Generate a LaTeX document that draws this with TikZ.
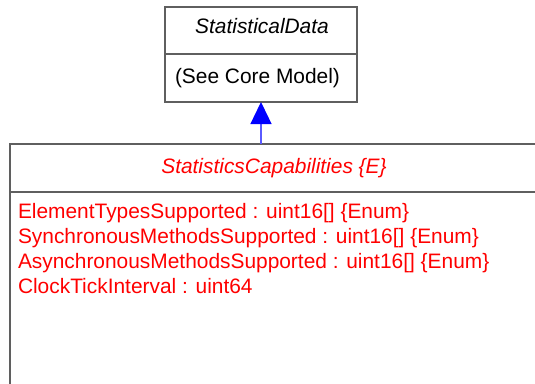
\documentclass[tikz,border=0pt]{standalone}
\usepackage{fontspec}
\setmainfont{Liberation Sans}
\usetikzlibrary{arrows.meta}
\definecolor{umlred}{RGB}{255,0,0}
\definecolor{umlblue}{RGB}{0,0,255}
\definecolor{stemblue}{RGB}{90,90,255}
\definecolor{bordergray}{RGB}{95,95,95}
\tikzset{
  compart/.style={draw=bordergray, line width=1.2pt, fill=white, inner sep=0pt, outer sep=0pt},
  txt/.style={inner sep=0pt, outer sep=0pt, font=\fontsize{20.9}{25}\selectfont},
  redtxt/.style={txt, text=umlred},
  inherit/.style={draw=stemblue, line width=1.3pt, -{Triangle[width=21pt,length=22pt,color=umlblue]}}
}
\begin{document}
\begin{tikzpicture}[x=1pt,y=-1pt]
\useasboundingbox (0,0) rectangle (535,383);
\clip (0,0) rectangle (535,383);
% StatisticalData
\node[compart, minimum width=192pt, minimum height=47pt, anchor=north west] (sdtitle) at (165,7) {};
\node[compart, minimum width=192pt, minimum height=48pt, anchor=north west] (sdbody) at (165,54) {};
\node[txt, anchor=base] (sdname) at (262,33) {\itshape StatisticalData};
\node[txt, anchor=base west] (sdnote) at (175,83) {(See Core Model)};
% StatisticsCapabilities
\node[compart, minimum width=528pt, minimum height=48pt, anchor=north west] (sctitle) at (10,144) {};
\node[compart, minimum width=528pt, minimum height=240pt, anchor=north west] (scbody) at (10,192) {};
\node[redtxt, anchor=base] (scname) at (274,173) {\itshape StatisticsCapabilities \{E\}};
\node[redtxt, anchor=base west] (a1) at (18,218) {ElementTypesSupported : uint16[] \{Enum\}};
\node[redtxt, anchor=base west] (a2) at (18,243) {SynchronousMethodsSupported : uint16[] \{Enum\}};
\node[redtxt, anchor=base west] (a3) at (18,268) {AsynchronousMethodsSupported : uint16[] \{Enum\}};
\node[redtxt, anchor=base west] (a4) at (18,293) {ClockTickInterval : uint64};
% inheritance
\draw[inherit] (sdbody.south |- sctitle.north) -- (sdbody.south);
\end{tikzpicture}
\end{document}
